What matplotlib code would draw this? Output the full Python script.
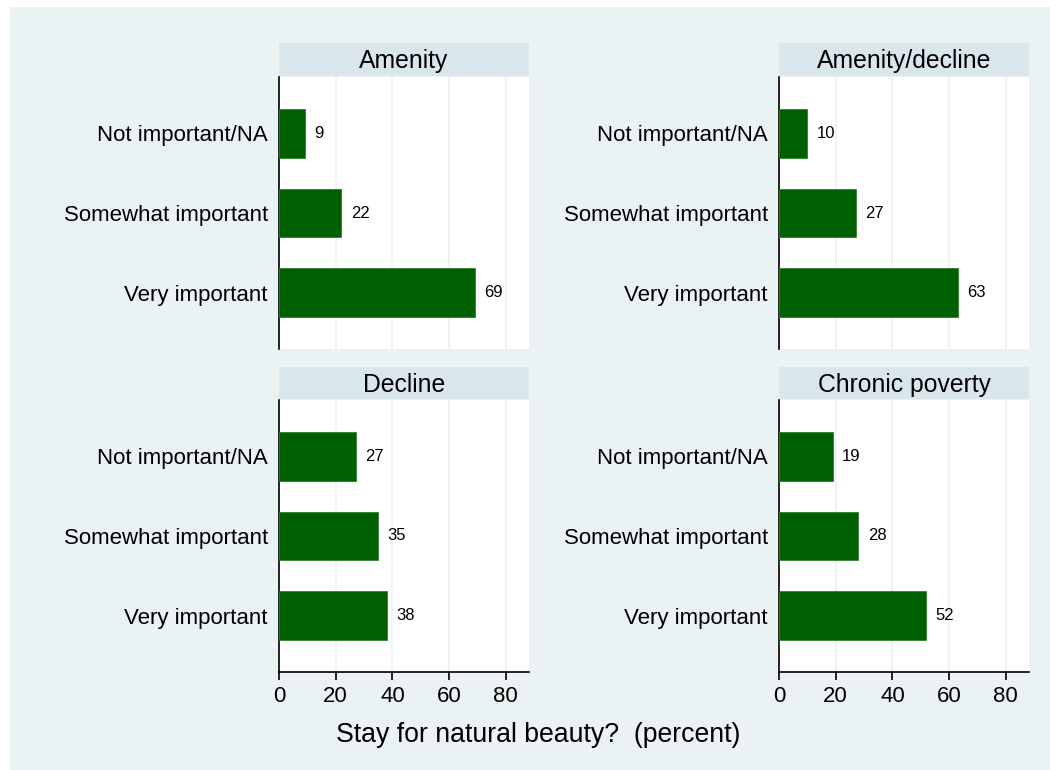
import numpy as np
import matplotlib.pyplot as plt
from matplotlib.patches import Rectangle

plt.rcParams['font.family'] = ['Liberation Sans', 'DejaVu Sans']

panels = ['Amenity', 'Amenity/decline', 'Decline', 'Chronic poverty']
categories = ['Not important/NA', 'Somewhat important', 'Very important']
values = {
    'Amenity': [9, 22, 69],
    'Amenity/decline': [10, 27, 63],
    'Decline': [27, 35, 38],
    'Chronic poverty': [19, 28, 52],
}
xticks = [0, 20, 40, 60, 80]

W, H = 1050, 770
bg = '#EAF2F3'
strip_c = '#D9E6EB'
bar_c = '#005F00'

fig = plt.figure(figsize=(W / 100, H / 100), dpi=100)
fig.patch.set_facecolor('white')
fig.patches.append(Rectangle((10 / W, 0), 1040 / W, 763 / H,
                             transform=fig.transFigure, facecolor=bg,
                             edgecolor='none', zorder=-5))

# pixel boxes: strip top, plot top, plot bottom
lefts = [279, 779]
tops = [(43, 77, 349), (367, 400, 672)]

for k, name in enumerate(panels):
    r, c = divmod(k, 2)
    x0 = lefts[c]
    x1 = x0 + 250
    st, pt, pb = tops[r]
    ax = fig.add_axes([x0 / W, 1 - pb / H, (x1 - x0) / W, (pb - pt) / H])
    ax.set_facecolor('white')
    ypos = np.arange(len(categories))
    ax.barh(ypos, values[name], height=0.61, color=bar_c,
            edgecolor='#2E7D2E', linewidth=0.6, zorder=3)
    for y, v in zip(ypos, values[name]):
        ax.text(v + 3.3, y, str(v), va='center', ha='left', fontsize=12, zorder=4)
    ax.set_xlim(0, 88.2)
    ax.set_ylim(2.71, -0.71)
    ax.set_yticks(ypos)
    ax.set_yticklabels(categories, fontsize=16)
    ax.tick_params(axis='y', length=0, pad=8)
    ax.set_xticks(xticks)
    for t in xticks[1:]:
        ax.axvline(t, color=bg, linewidth=1.2, zorder=1)
    for s in ['top', 'right']:
        ax.spines[s].set_visible(False)
    ax.spines['left'].set_linewidth(1.2)
    if r == 0:
        ax.spines['bottom'].set_visible(False)
        ax.tick_params(axis='x', length=0, labelbottom=False)
    else:
        ax.spines['bottom'].set_linewidth(1.2)
        ax.tick_params(axis='x', length=6, width=1.2, labelsize=16, pad=4)
    # strip title
    sax = fig.add_axes([x0 / W, 1 - (pt - 1) / H, (x1 - x0) / W, (pt - 1 - st) / H])
    sax.set_facecolor(strip_c)
    sax.set_xticks([])
    sax.set_yticks([])
    for s in sax.spines.values():
        s.set_visible(False)
    sax.text(0.5, 0.45, name, ha='center', va='center', fontsize=17.8,
             transform=sax.transAxes)

fig.text(538 / W, 1 - 735 / H, 'Stay for natural beauty?  (percent)',
         ha='center', va='center', fontsize=19.2)

fig.savefig('out.png', dpi=100, facecolor=fig.get_facecolor())
